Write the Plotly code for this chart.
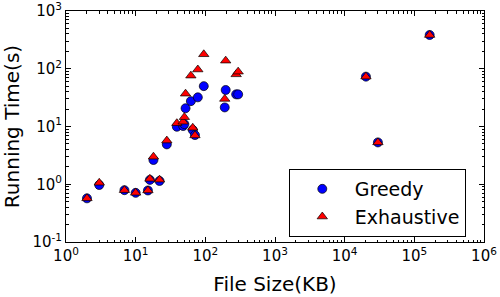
import plotly.graph_objects as go

file_size_kb = [2, 3, 6.9, 10, 15, 16, 18, 22, 28, 39, 48, 50, 52, 62, 66, 71, 78, 95,
                190, 196, 277, 296, 20200, 30000, 166000]
greedy_time = [0.57, 0.97, 0.79, 0.71, 0.78, 1.19, 2.63, 1.14, 4.9, 9.9, 10.2, 11.0, 20.7,
               27.5, 8.7, 7.1, 32, 50, 21.4, 42.9, 36, 36, 73, 5.3, 384]
exhaustive_time = [0.57, 1.06, 0.79, 0.71, 0.78, 1.24, 3.0, 1.2, 5.7, 11.4, 12.1, 14.5, 37,
                   76, 9.5, 7.0, 97, 178, 30, 138, 80, 89, 73, 5.3, 384]

x_tickvals = [1, 10, 100, 1000, 10000, 100000, 1000000]
x_ticktext = ["10<sup>0</sup>", "10<sup>1</sup>", "10<sup>2</sup>", "10<sup>3</sup>",
              "10<sup>4</sup>", "10<sup>5</sup>", "10<sup>6</sup>"]
y_tickvals = [0.1, 1, 10, 100, 1000]
y_ticktext = ["10<sup>-1</sup>", "10<sup>0</sup>", "10<sup>1</sup>", "10<sup>2</sup>", "10<sup>3</sup>"]

font = "DejaVu Sans"

fig = go.Figure()
fig.add_trace(go.Scatter(
    x=file_size_kb, y=greedy_time, mode="markers", name="Greedy",
    marker=dict(symbol="circle", size=9, color="#0000ff", line=dict(color="black", width=0.7)),
))
fig.add_trace(go.Scatter(
    x=file_size_kb, y=exhaustive_time, mode="markers", name="Exhaustive",
    marker=dict(symbol="triangle-up", size=9, color="#ff0000", line=dict(color="black", width=0.7)),
))

axis_common = dict(
    type="log", showgrid=False, zeroline=False, showline=True, linecolor="black", linewidth=1,
    mirror="allticks", ticks="inside", ticklen=5, tickcolor="black", tickwidth=1,
    tickfont=dict(family=font, size=15, color="black"), automargin=False,
    ticklabeloverflow="allow",
    minor=dict(ticks="inside", ticklen=2.5, tickcolor="black", tickwidth=0.8, dtick="D1", showgrid=False),
)

fig.update_xaxes(axis_common, range=[0, 6], tickvals=x_tickvals, ticktext=x_ticktext,
                 title=dict(text="File Size(KB)", font=dict(family=font, size=20, color="black"), standoff=12))
fig.update_yaxes(axis_common, range=[-1, 3], tickvals=y_tickvals, ticktext=y_ticktext,
                 title=dict(text="Running Time(s)", font=dict(family=font, size=20, color="black"), standoff=10))

fig.update_layout(
    width=500, height=297,
    margin=dict(l=66, r=16, t=11, b=55, autoexpand=False),
    paper_bgcolor="white", plot_bgcolor="white",
    showlegend=True,
    legend=dict(x=0.533, y=0.316, xanchor="left", yanchor="top",
                bordercolor="black", borderwidth=1, bgcolor="white",
                font=dict(family=font, size=19, color="black"),
                itemwidth=55, tracegroupgap=0),
)

fig.write_html("out.html", config={"displayModeBar": False},
               post_script="document.body.style.margin='0';document.body.style.overflow='hidden';")
